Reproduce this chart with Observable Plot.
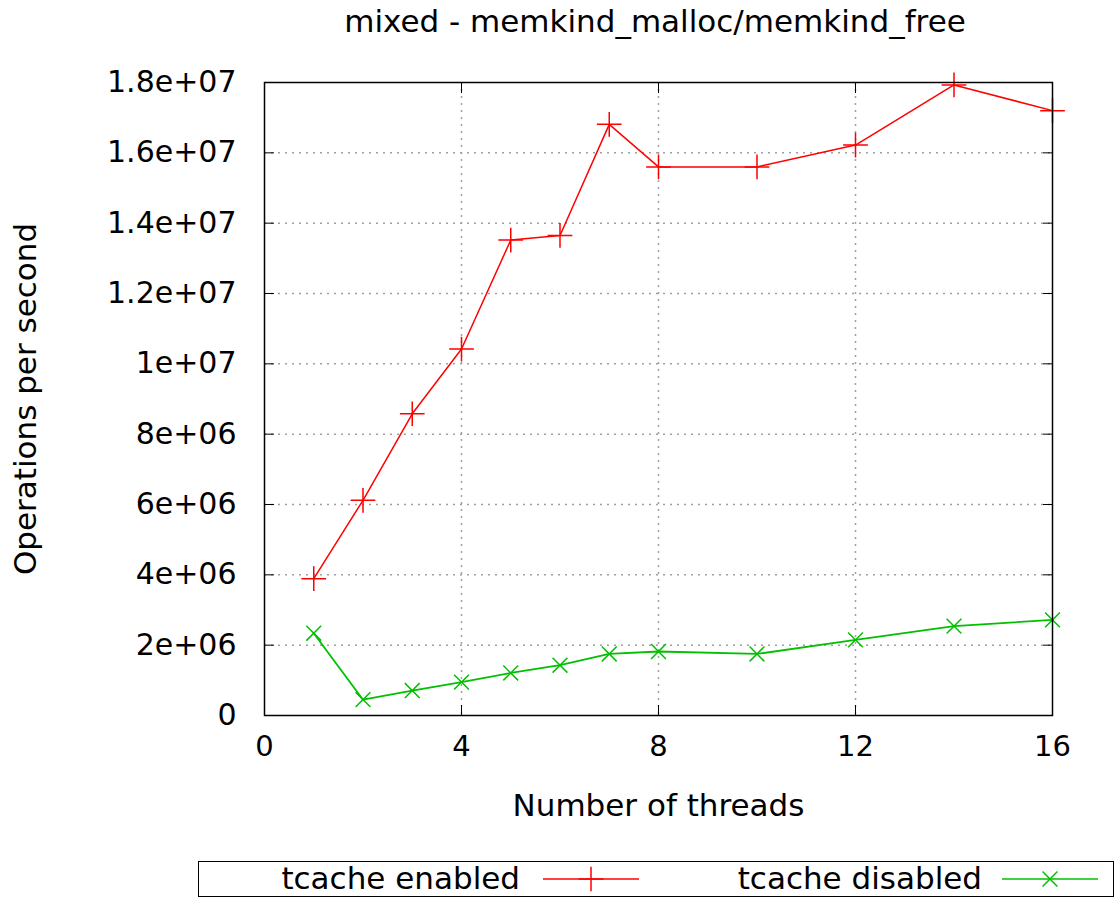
<!DOCTYPE html>
<html>
<head>
<meta charset="utf-8">
<script src="https://cdn.jsdelivr.net/npm/d3@7"></script>
<script src="https://cdn.jsdelivr.net/npm/@observablehq/plot@0.6"></script>
<style>
  html, body { margin: 0; padding: 0; background: #fff; }
  #wrap { position: relative; width: 1117px; height: 899px; font-family: "DejaVu Sans", sans-serif; color: #000; }
  #title { position: absolute; top: 3px; left: 0; width: 1310px; text-align: center; font-size: 31px; white-space: nowrap; }
  #chart { position: absolute; top: 0; left: 0; }
  #legend { position: absolute; left: 198px; top: 861px; width: 916px; height: 36px; border: 1.5px solid #000; box-sizing: border-box; font-size: 31px; }
  .lg { position: absolute; top: 0; height: 33px; line-height: 33px; white-space: nowrap; }
</style>
</head>
<body>
<div id="wrap">
  <div id="chart"></div>
  <div id="title">mixed - memkind_malloc/memkind_free</div>
  <div id="legend"></div>
</div>
<script>
const threads = [1, 2, 3, 4, 5, 6, 7, 8, 10, 12, 14, 16];
const tcacheEnabled = [3.89e6, 6.12e6, 8.58e6, 10.42e6, 13.52e6, 13.65e6, 16.81e6, 15.6e6, 15.6e6, 16.22e6, 17.93e6, 17.2e6];
const tcacheDisabled = [2.34e6, 0.45e6, 0.71e6, 0.95e6, 1.21e6, 1.43e6, 1.75e6, 1.82e6, 1.75e6, 2.15e6, 2.54e6, 2.72e6];
const seriesNames = ["tcache enabled", "tcache disabled"];
const seriesColors = ["#ff0000", "#00c000"];
const xTicks = [0, 4, 8, 12, 16];
const yTicks = [0, 2e6, 4e6, 6e6, 8e6, 1e7, 1.2e7, 1.4e7, 1.6e7, 1.8e7];
const yTickLabels = ["0", "2e+06", "4e+06", "6e+06", "8e+06", "1e+07", "1.2e+07", "1.4e+07", "1.6e+07", "1.8e+07"];

const enabled = threads.map((t, i) => ({x: t, y: tcacheEnabled[i]}));
const disabled = threads.map((t, i) => ({x: t, y: tcacheDisabled[i]}));
const yFmt = v => yTickLabels[yTicks.indexOf(v)] ?? "";

const chart = Plot.plot({
  width: 1117,
  height: 850,
  marginLeft: 264,
  marginRight: 65,
  marginTop: 82,
  marginBottom: 135,
  style: {fontFamily: "DejaVu Sans, sans-serif", fontSize: "30px", color: "#000", background: "#fff", overflow: "visible"},
  x: {domain: [0, 16]},
  y: {domain: [0, 1.8e7]},
  marks: [
    Plot.gridX(xTicks.slice(1, -1), {stroke: "#a0a0a0", strokeOpacity: 1, strokeWidth: 1.5, strokeDasharray: "2,5"}),
    Plot.gridY(yTicks.slice(1, -1), {stroke: "#a0a0a0", strokeOpacity: 1, strokeWidth: 1.5, strokeDasharray: "2,5"}),
    Plot.axisX(xTicks, {anchor: "bottom", tickSize: 0, tickPadding: 20, fontSize: 29, label: null}),
    Plot.axisX([], {anchor: "bottom", tickSize: 0, label: "Number of threads", labelAnchor: "center", labelArrow: "none", labelOffset: 100, fontSize: 31}),
    Plot.axisX(xTicks, {anchor: "bottom", tickSize: -10, tickFormat: () => "", label: null}),
    Plot.axisX(xTicks, {anchor: "top", tickSize: -10, tickFormat: () => "", label: null}),
    Plot.axisY(yTicks, {anchor: "left", tickSize: 0, tickPadding: 28, tickFormat: yFmt, fontSize: 30, label: null}),
    Plot.axisY([], {anchor: "left", tickSize: 0, label: "Operations per second", labelAnchor: "center", labelArrow: "none", labelOffset: 251, fontSize: 31}),
    Plot.axisY(yTicks, {anchor: "left", tickSize: -10, tickFormat: () => "", label: null}),
    Plot.axisY(yTicks, {anchor: "right", tickSize: -10, tickFormat: () => "", label: null}),
    Plot.line(enabled, {x: "x", y: "y", stroke: seriesColors[0], strokeWidth: 1.5}),
    Plot.dot(enabled, {x: "x", y: "y", symbol: "plus", r: 8, stroke: seriesColors[0], strokeWidth: 1.5}),
    Plot.line(disabled, {x: "x", y: "y", stroke: seriesColors[1], strokeWidth: 1.8}),
    Plot.dot(disabled, {x: "x", y: "y", symbol: "times", r: 6.8, stroke: seriesColors[1], strokeWidth: 1.5}),
    Plot.frame({stroke: "#000", strokeWidth: 1.5})
  ]
});
document.getElementById("chart").appendChild(chart);

// legend
const legend = document.getElementById("legend");
const legendItems = [
  {textRight: 320, swatchLeft: 344, sym: d3.symbolPlus, r: 8},
  {textRight: 782, swatchLeft: 803, sym: d3.symbolTimes, r: 6.8}
];
seriesNames.forEach((name, i) => {
  const it = legendItems[i];
  const t = document.createElement("div");
  t.className = "lg";
  t.style.right = (916 - 3 - it.textRight) + "px";
  t.textContent = name;
  legend.appendChild(t);
  const sw = d3.create("svg").attr("width", 98).attr("height", 33)
    .style("position", "absolute").style("left", it.swatchLeft + "px").style("top", "0px");
  sw.append("line").attr("x1", 0).attr("x2", 96).attr("y1", 17).attr("y2", 17)
    .attr("stroke", seriesColors[i]).attr("stroke-width", 1.5);
  sw.append("path").attr("transform", "translate(48,17)")
    .attr("d", d3.symbol(it.sym, it.r * it.r * Math.PI)())
    .attr("fill", "none").attr("stroke", seriesColors[i]).attr("stroke-width", 1.5);
  legend.appendChild(sw.node());
});
</script>
</body>
</html>
